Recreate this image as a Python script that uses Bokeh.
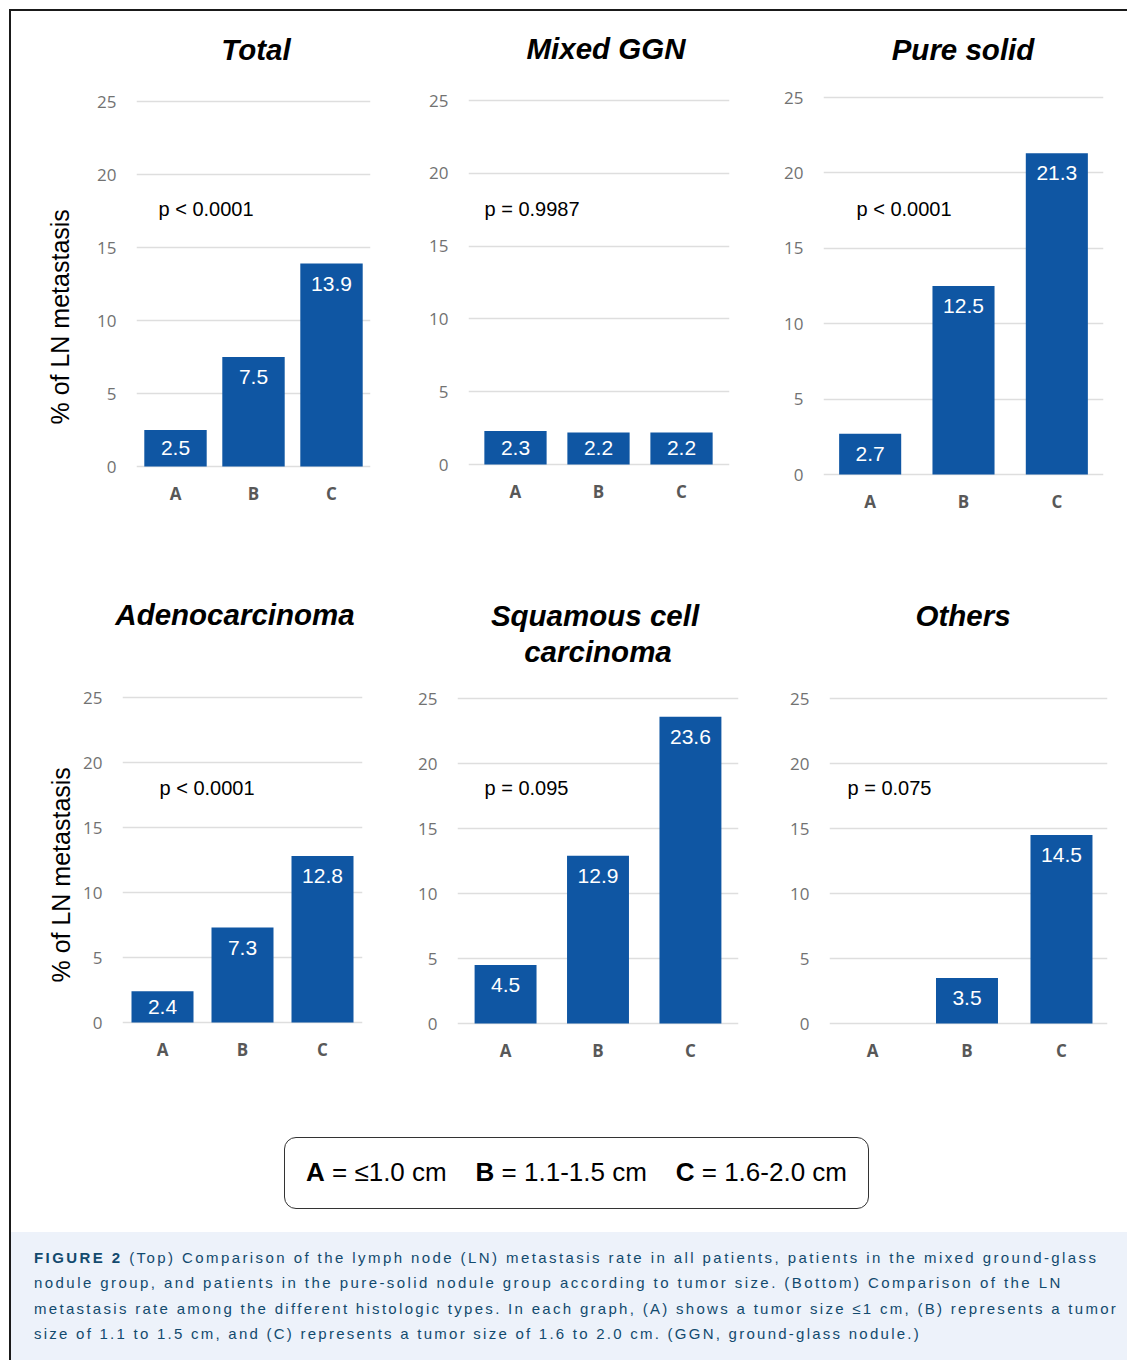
from bokeh.plotting import figure
from bokeh.models import Range1d, FixedTicker, Div, Spacer, Title
from bokeh.layouts import row, column
from bokeh.embed import file_html
from bokeh.resources import INLINE
from bokeh.core.properties import value

# ---------------- data ----------------
categories = ["A", "B", "C"]
y_ticks = [0, 5, 10, 15, 20, 25]

total = [2.5, 7.5, 13.9]
mixed_ggn = [2.3, 2.2, 2.2]
pure_solid = [2.7, 12.5, 21.3]
adenocarcinoma = [2.4, 7.3, 12.8]
squamous_cell = [4.5, 12.9, 23.6]
others = [0.0, 3.5, 14.5]

p_values = ["p < 0.0001", "p = 0.9987", "p < 0.0001",
            "p < 0.0001", "p = 0.095", "p = 0.075"]
titles = [["Total"], ["Mixed GGN"], ["Pure solid"],
          ["Adenocarcinoma"], ["Squamous cell", "carcinoma"], ["Others"]]
y_label = "% of LN metastasis"

legend_items = [("A", "= \u22641.0 cm"), ("B", "= 1.1-1.5 cm"), ("C", "= 1.6-2.0 cm")]
caption_lines = [
    "(Top) Comparison of the lymph node (LN) metastasis rate in all patients, patients in the mixed ground-glass",
    "nodule group, and patients in the pure-solid nodule group according to tumor size. (Bottom) Comparison of the LN",
    "metastasis rate among the different histologic types. In each graph, (A) shows a tumor size \u22641 cm, (B) represents a tumor",
    "size of 1.1 to 1.5 cm, and (C) represents a tumor size of 1.6 to 2.0 cm. (GGN, ground-glass nodule.)",
]

# ---------------- styles / layout ----------------
BAR = "#0f56a3"
SANS = "Liberation Sans"
TICKF = "Open Sans"
CAPTION_SPACING = [2.42, 2.44, 2.3, 2.25]   # letter-spacing per caption line (px)

# global pixel geometry of each panel (x, y, w, h of the whole panel incl. title strip)
layout_specs = [
    dict(fig=(11, 11, 380, 549), th=60, fx=(136, 370), fy=(101, 466), xr=(0.0, 3.0), bw=0.80,
         title=[(256, 49)], ptxt=(158, 208), ylab=(60, 317)),
    dict(fig=(391, 11, 360, 549), th=60, fx=(468, 729), fy=(100, 464), xr=(-0.066, 3.078), bw=0.75,
         title=[(606, 48)], ptxt=(484, 208), ylab=None),
    dict(fig=(751, 11, 376, 549), th=60, fx=(823, 1103), fy=(97, 474), xr=(0.0, 3.0), bw=0.665,
         title=[(963, 49)], ptxt=(856, 208), ylab=None),
    dict(fig=(11, 560, 380, 535), th=110, fx=(122, 362), fy=(697, 1022), xr=(0.0, 3.0), bw=0.775,
         title=[(235, 614)], ptxt=(159, 787), ylab=(61, 875)),
    dict(fig=(391, 560, 360, 535), th=110, fx=(457, 738), fy=(698, 1023), xr=(-0.02, 3.02), bw=0.67,
         title=[(595, 615), (598, 651)], ptxt=(484, 787), ylab=None),
    dict(fig=(751, 560, 376, 535), th=110, fx=(829, 1107), fy=(698, 1023), xr=(0.045, 2.987), bw=0.656,
         title=[(963, 615)], ptxt=(847, 787), ylab=None),
]
series = [total, mixed_ggn, pure_solid, adenocarcinoma, squamous_cell, others]

YLAB_H = 27      # approx. thickness of the rotated y label
YAX_W = 41.5     # approx. width taken by the y axis (standoff + labels)
YLAB_LEN = 214   # approx. length of the y label text


def title_div(px0, py0, pw, th, lines):
    inner = "".join(
        f"<div style=\"position:absolute;left:{cx - px0 - 150}px;top:{cy - py0 - 17}px;"
        "width:300px;height:35px;line-height:35px;text-align:center;"
        f"font-family:'{SANS}';font-size:29.5px;font-weight:bold;font-style:italic;"
        f"color:#000;white-space:nowrap;\">{t}</div>"
        for (cx, cy), t in lines)
    return Div(width=pw, height=th, margin=0, text=(
        f"<div style=\"position:relative;width:{pw}px;height:{th}px;\">{inner}</div>"))


def make_panel(spec, vals, title_lines, ptext):
    px0, py0, pw, ph = spec["fig"]
    th = spec["th"]
    fx, fy, fw, fh = px0, py0 + th, pw, ph - th
    fl, fr = spec["fx"]
    y25, y0 = spec["fy"]
    ppu = (y0 - y25) / 25.0
    pad = 4
    ft, fb = y25 - pad, y0 + pad
    ys, ye = -pad / ppu, 25 + pad / ppu
    xs, xe = spec["xr"]

    def px2x(g):
        return xs + (g - fl) / (fr - fl) * (xe - xs)

    def px2y(g):
        return ye - (g - ft) / (fb - ft) * (ye - ys)

    p = figure(width=fw, height=fh, x_range=Range1d(xs, xe), y_range=Range1d(ys, ye),
               output_backend="svg", toolbar_location=None, margin=0,
               min_border_left=fl - fx, min_border_right=fx + fw - fr,
               min_border_top=ft - fy, min_border_bottom=fy + fh - fb)
    p.outline_line_color = None
    p.background_fill_color = "white"
    p.border_fill_color = "white"

    xpos = [i + 0.5 for i in range(len(categories))]
    p.vbar(x=xpos, top=vals, bottom=0, width=spec["bw"], fill_color=BAR, line_color=None)

    lx = [x for x, v in zip(xpos, vals) if v > 0]
    ly = [v - min(20.0 / ppu, v / 2.0) for v in vals if v > 0]
    lt = [f"{v:.1f}" for v in vals if v > 0]
    p.text(x=lx, y=ly, text=lt, text_color="white", text_font=value(SANS),
           text_font_size="21px", text_align="center", text_baseline="middle")

    # p-value
    qx, qy = spec["ptxt"]
    p.text(x=[px2x(qx)], y=[px2y(qy)], text=[ptext], text_color="black",
           text_font=value(SANS), text_font_size="20px",
           text_align="left", text_baseline="middle")

    # axes
    p.xaxis.ticker = FixedTicker(ticks=xpos)
    p.xaxis.major_label_overrides = {x: c for x, c in zip(xpos, categories)}
    p.yaxis.ticker = FixedTicker(ticks=y_ticks)
    for ax in (p.xaxis[0], p.yaxis[0]):
        ax.axis_line_color = None
        ax.major_tick_line_color = None
        ax.minor_tick_line_color = None
        ax.major_tick_out = 0
        ax.major_tick_in = 0
        ax.minor_tick_out = 0
        ax.minor_tick_in = 0
    p.xaxis.major_label_text_font = TICKF
    p.xaxis.major_label_text_font_size = "17px"
    p.xaxis.major_label_text_font_style = "bold"
    p.xaxis.major_label_text_color = "#585858"
    p.xaxis.major_label_standoff = 11
    p.yaxis.major_label_text_font = TICKF
    p.yaxis.major_label_text_font_size = "17px"
    p.yaxis.major_label_text_color = "#727272"
    p.yaxis.major_label_standoff = 20

    p.xgrid.visible = False
    p.ygrid.grid_line_color = "#dedede"
    p.ygrid.grid_line_width = 1.5

    # y label (rotated, on the left)
    if spec["ylab"] is not None:
        lx0, ly0 = spec["ylab"]
        standoff = max(0, int(round(2 * ((fl - YAX_W) - lx0) - YLAB_H)))
        p.add_layout(Title(text=y_label, text_font=SANS, text_font_size="25px",
                           text_font_style="normal", text_color="black",
                           align="left", offset=fb - (ly0 + YLAB_LEN / 2.0),
                           standoff=standoff), "left")

    tdiv = title_div(px0, py0, pw, th, list(zip(spec["title"], title_lines)))
    return column(tdiv, p, margin=0)


panels = [make_panel(s, v, t, pv) for s, v, t, pv in zip(layout_specs, series, titles, p_values)]

legend_html = "&nbsp;&nbsp;&nbsp;&nbsp;".join(
    f"<b>{k}</b> {txt}" for k, txt in legend_items)
legend = Div(width=1116, height=137, margin=0, text=(
    "<div style=\"margin-left:273px;margin-top:42px;width:585px;height:72px;"
    "box-sizing:border-box;border:1.5px solid #333;border-radius:12px;"
    "display:flex;align-items:center;justify-content:center;"
    f"font-family:'{SANS}';font-size:26px;color:#000;white-space:nowrap;\">"
    f"<span>{legend_html}</span></div>"))

cap_parts = []
for i, (line, sp) in enumerate(zip(caption_lines, CAPTION_SPACING)):
    body = ("<b>FIGURE 2</b>&nbsp;" + line) if i == 0 else line
    cap_parts.append(f"<div style=\"letter-spacing:{sp}px;height:25.4px;\">{body}</div>")
caption = Div(width=1116, height=128, margin=0, text=(
    "<div style=\"width:1116px;height:128px;box-sizing:border-box;background:#edf2fa;"
    "padding:13px 0 0 23px;"
    f"font-family:'{SANS}';font-size:15px;line-height:25.4px;"
    f"color:#124a6e;white-space:nowrap;overflow:hidden;\">{''.join(cap_parts)}</div>"))

content = column(row(*panels[:3], margin=0), row(*panels[3:], margin=0), legend, caption, margin=0)
hline = Div(width=1118, height=2, text="", margin=0, styles={"background-color": "#1a1a1a"})
vline = Div(width=2, height=1349, text="", margin=0, styles={"background-color": "#1a1a1a"})

root = column(
    Spacer(width=1127, height=9, margin=0),
    row(Spacer(width=9, height=2, margin=0), hline, margin=0),
    row(Spacer(width=9, height=1349, margin=0), vline, content, margin=0),
    margin=0,
)

open("out.html", "w").write(file_html(root, INLINE))
